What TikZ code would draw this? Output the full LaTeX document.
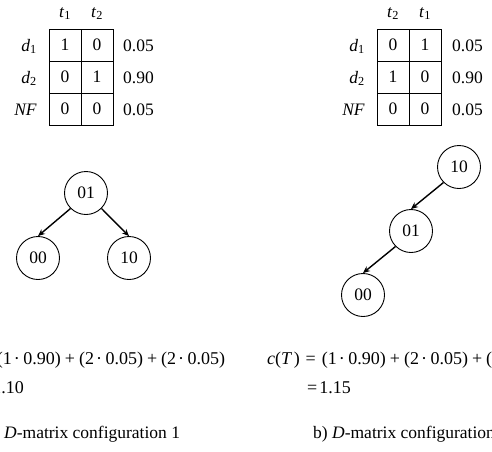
\documentclass[tikz,border=0pt]{standalone}
\usepackage{fontspec}
\setmainfont{Liberation Serif}
\usetikzlibrary{arrows.meta}
\tikzset{
  txt/.style={font=\fontsize{17.5pt}{21pt}\selectfont, inner sep=0pt},
  cell/.style={txt, draw, line width=1pt, minimum width=32pt, minimum height=32pt},
  rowlab/.style={txt, anchor=base east},
  collab/.style={txt, anchor=base},
  val/.style={txt, anchor=base west},
  state/.style={txt, draw, circle, line width=0.9pt, minimum size=43pt},
  edge/.style={line width=1.4pt, -{Stealth[length=7pt,width=6pt]}},
  formula/.style={font=\fontsize{18pt}{22pt}\selectfont, inner sep=0pt, anchor=base west},
  caption/.style={txt, anchor=base west},
}
\newcommand{\mdot}{\kern2pt·\kern3.5pt}
\newcommand{\pls}{\kern4pt+\kern4pt}
\newcommand{\meq}{\kern6pt=\kern6pt}
\begin{document}
\begin{tikzpicture}[x=1pt,y=-1pt]
\useasboundingbox (0,0) rectangle (492,451);
\clip (0,0) rectangle (492,451);

% ---------- left table ----------
\node[collab] (lh1) at (65,17) {\textit{t}\textsubscript{1}};
\node[collab] (lh2) at (97,17) {\textit{t}\textsubscript{2}};
\node[cell] (la1) at (65,45) {1};
\node[cell] (la2) at (97,45) {0};
\node[cell] (lb1) at (65,77) {0};
\node[cell] (lb2) at (97,77) {1};
\node[cell] (lc1) at (65,109) {0};
\node[cell] (lc2) at (97,109) {0};
\node[rowlab] (lr1) at (37,51) {\textit{d}\textsubscript{1}};
\node[rowlab] (lr2) at (37,83) {\textit{d}\textsubscript{2}};
\node[rowlab] (lr3) at (37,115) {\textit{NF}};
\node[val] (lv1) at (123,51) {0.05};
\node[val] (lv2) at (123,83) {0.90};
\node[val] (lv3) at (123,115) {0.05};

% ---------- right table ----------
\node[collab] (rh1) at (393,17) {\textit{t}\textsubscript{2}};
\node[collab] (rh2) at (425,17) {\textit{t}\textsubscript{1}};
\node[cell] (ra1) at (393,45) {0};
\node[cell] (ra2) at (425,45) {1};
\node[cell] (rb1) at (393,77) {1};
\node[cell] (rb2) at (425,77) {0};
\node[cell] (rc1) at (393,109) {0};
\node[cell] (rc2) at (425,109) {0};
\node[rowlab] (rr1) at (365,51) {\textit{d}\textsubscript{1}};
\node[rowlab] (rr2) at (365,83) {\textit{d}\textsubscript{2}};
\node[rowlab] (rr3) at (365,115) {\textit{NF}};
\node[val] (rv1) at (452,51) {0.05};
\node[val] (rv2) at (452,83) {0.90};
\node[val] (rv3) at (452,115) {0.05};

% ---------- left tree ----------
\node[state] (l01) at (86,193) {01};
\node[state] (l00) at (38,258) {00};
\node[state] (l10) at (129,258) {10};
\draw[edge] (l01.-135) -- (l00.north);
\draw[edge] (l01.-45) -- (l10.north);

% ---------- right tree ----------
\node[state] (r10) at (459,167) {10};
\node[state] (r01) at (411,231) {01};
\node[state] (r00) at (363,295) {00};
\draw[edge] (r10.-135) -- (r01.north);
\draw[edge] (r01.-135) -- (r00.north);

% ---------- formulas ----------
\node[formula] (lf1) at (-58,364) {\textit{c}(\textit{T}\kern1.5pt)\meq(1\mdot0.90)\pls(2\mdot0.05)\pls(2\mdot0.05)};
\node[formula] (lf2) at (-20,393) {=\kern2pt1.10};
\node[formula] (rf1) at (267,364) {\textit{c}(\textit{T}\kern1.5pt)\meq(1\mdot0.90)\pls(2\mdot0.05)\pls(2\mdot0.05)};
\node[formula] (rf2) at (307,393) {=\kern2pt1.15};

% ---------- captions ----------
\node[caption] (lcap) at (-14,438) {a) \textit{D}-matrix configuration 1};
\node[caption] (rcap) at (313,438) {b) \textit{D}-matrix configuration 2};
\end{tikzpicture}
\end{document}
